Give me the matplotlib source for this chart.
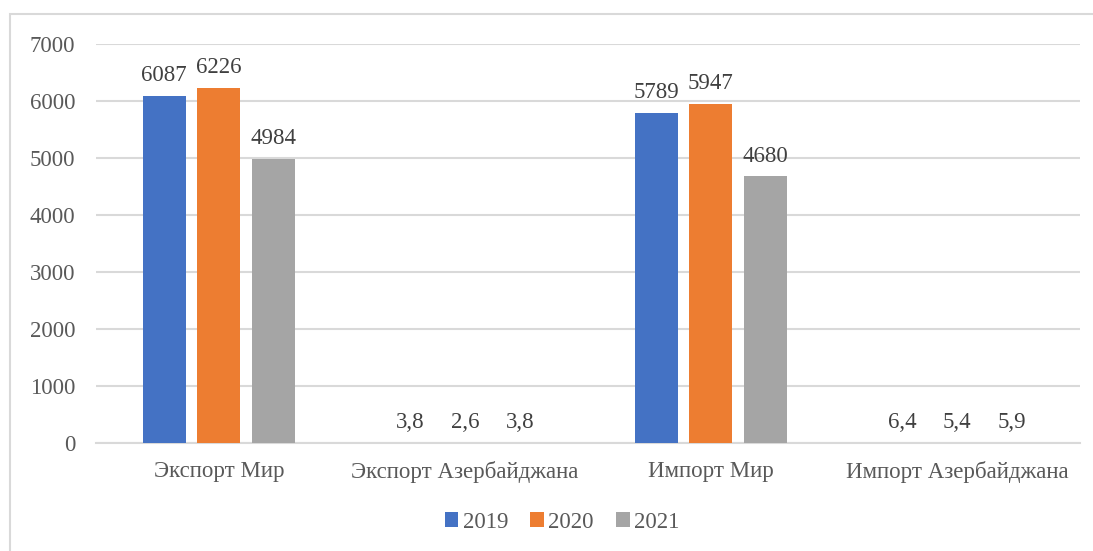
import matplotlib.pyplot as plt
import matplotlib.patches as mpatches
import numpy as np

# данные
categories = ["Экспорт Мир", "Экспорт Азербайджана", "Импорт Мир", "Импорт Азербайджана"]
years = ["2019", "2020", "2021"]
v2019 = [6087, 3.8, 5789, 6.4]
v2020 = [6226, 2.6, 5947, 5.4]
v2021 = [4984, 3.8, 4680, 5.9]
colors = ["#4472C4", "#ED7D31", "#A5A5A5"]

plt.rcParams["font.family"] = ["Liberation Serif", "DejaVu Serif"]
txt = "#595959"
fs = 16.5

fig = plt.figure(figsize=(10.93, 5.51), dpi=100)
ax = fig.add_axes([0.0878, 0.196, 0.9002, 0.724])

# рамка вокруг диаграммы
fig.patches.append(mpatches.Rectangle((10 / 1093, -0.1), 1.2, 1 - 14 / 551 + 0.1,
                                      transform=fig.transFigure, fill=False,
                                      edgecolor="#d9d9d9", linewidth=1.5))

x = np.arange(len(categories))
w = 0.175
step = 0.223
series = [v2019, v2020, v2021]
for i, vals in enumerate(series):
    pos = x + (i - 1) * step
    ax.bar(pos, vals, width=w, color=colors[i], label=years[i], zorder=3)
    for p, v in zip(pos, vals):
        s = f"{v:g}".replace(".", ",")
        ax.annotate(s, (p, v), xytext=(0, 7), textcoords="offset points",
                    ha="center", va="bottom", fontsize=fs, color="#404040")

ax.set_xlim(-0.5, 3.5)
ax.set_ylim(0, 7000)
ax.set_yticks(range(0, 7001, 1000))
ax.set_xticks(x)
ax.set_xticklabels(categories)
ax.yaxis.grid(True, color="#d9d9d9", linewidth=1.5, zorder=0)
ax.set_axisbelow(True)
for sp in ["top", "right", "left"]:
    ax.spines[sp].set_visible(False)
ax.spines["bottom"].set_color("#d9d9d9")
ax.spines["bottom"].set_linewidth(1.5)
ax.tick_params(axis="both", length=0, labelsize=fs, colors=txt)
ax.tick_params(axis="y", pad=15)
ax.tick_params(axis="x", pad=13)

ax.legend(loc="center", bbox_to_anchor=(562 / 1093, 1 - 522 / 551),
          bbox_transform=fig.transFigure, ncol=3, frameon=False,
          fontsize=fs, handlelength=0.6, handleheight=0.6,
          handletextpad=0.2, columnspacing=0.95, labelcolor=txt)

plt.savefig("out.png", dpi=100)
